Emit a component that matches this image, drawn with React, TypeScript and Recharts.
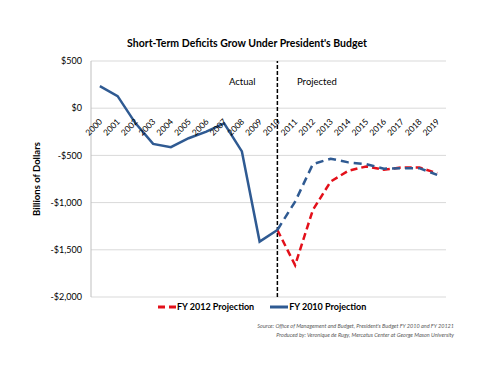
import {
  LineChart,
  Line,
  XAxis,
  YAxis,
  CartesianGrid,
  ReferenceLine,
} from 'recharts';

const years = [
  '2000', '2001', '2002', '2003', '2004', '2005', '2006', '2007', '2008', '2009',
  '2010', '2011', '2012', '2013', '2014', '2015', '2016', '2017', '2018', '2019',
];

// billions of dollars, null where a series has no value
const actual = [234, 128, -158, -378, -413, -318, -248, -161, -458, -1413, -1290,
  null, null, null, null, null, null, null, null, null];
const fy2010 = [null, null, null, null, null, null, null, null, null, null, -1290,
  -990, -592, -535, -574, -592, -641, -635, -635, -706];
const fy2012 = [null, null, null, null, null, null, null, null, null, null, -1290,
  -1663, -1078, -777, -663, -617, -652, -628, -628, -688];

const yTicks = [500, 0, -500, -1000, -1500, -2000];

const data = years.map((year, i) => ({
  year,
  actual: actual[i],
  fy2010: fy2010[i],
  fy2012: fy2012[i],
}));

const FONT = 'Lato, "Open Sans", sans-serif';
const BLUE = '#2F5A92';
const RED = '#E3101A';

const PLOT_TOP = 61;
const PLOT_BOTTOM = 297;
const Y_MIN = -2000;
const Y_MAX = 500;
const zeroY = PLOT_TOP + ((Y_MAX - 0) / (Y_MAX - Y_MIN)) * (PLOT_BOTTOM - PLOT_TOP);

const money = (v: number) => {
  const s = '$' + Math.abs(v).toLocaleString('en-US');
  return v < 0 ? '-' + s : s;
};

function YearTick(props: any) {
  const { x, payload } = props;
  const ax = x + 3;
  const ay = zeroY + 14;
  return (
    <text
      x={ax}
      y={ay}
      transform={`rotate(-45 ${ax} ${ay})`}
      textAnchor="end"
      fontSize={8.5}
      fontFamily={FONT}
      fill="#000"
    >
      {payload.value}
    </text>
  );
}

export default function App() {
  return (
    <div style={{ position: 'absolute', left: 0, top: 0, width: 500, height: 386, background: '#fff', fontFamily: FONT }}>
      <div style={{ position: 'absolute', left: 0, width: 494, top: 37, textAlign: 'center', fontSize: 10.5, fontWeight: 700, color: '#000' }}>
        Short-Term Deficits Grow Under President's Budget
      </div>
      <LineChart
        width={500}
        height={386}
        data={data}
        margin={{ top: PLOT_TOP, right: 54, bottom: 386 - PLOT_BOTTOM - 20, left: 0 }}
      >
        <CartesianGrid horizontal vertical={false} stroke="#d9d9d9" />
        <XAxis
          dataKey="year"
          scale="band"
          axisLine={false}
          tickLine={false}
          tick={(p: any) => <YearTick {...p} />}
          interval={0}
          height={20}
        />
        <YAxis
          domain={[Y_MIN, Y_MAX]}
          ticks={yTicks}
          width={91}
          axisLine={{ stroke: '#bfbfbf' }}
          tickLine={false}
          tickSize={0}
          tickMargin={9}
          tickFormatter={money}
          tick={{ fontSize: 9, fill: '#000', fontFamily: FONT }}
          label={{
            value: 'Billions of Dollars',
            angle: -90,
            position: 'insideLeft',
            dx: 32,
            style: { fontSize: 9.5, fontWeight: 700, fill: '#000', fontFamily: FONT, textAnchor: 'middle' },
          }}
        />
        <ReferenceLine x="2010" stroke="#000" strokeWidth={1.5} strokeDasharray="4 2" />
        <Line
          type="linear"
          dataKey="fy2012"
          stroke={RED}
          strokeWidth={2.5}
          strokeDasharray="7 4"
          dot={false}
          isAnimationActive={false}
        />
        <Line
          type="linear"
          dataKey="fy2010"
          stroke={BLUE}
          strokeWidth={2.5}
          strokeDasharray="8 5"
          dot={false}
          isAnimationActive={false}
        />
        <Line
          type="linear"
          dataKey="actual"
          stroke={BLUE}
          strokeWidth={2.5}
          dot={false}
          isAnimationActive={false}
        />
      </LineChart>
      <div style={{ position: 'absolute', left: 229, top: 76, fontSize: 9.5, color: '#000' }}>Actual</div>
      <div style={{ position: 'absolute', left: 297, top: 76, fontSize: 9.5, color: '#000' }}>Projected</div>
      <div style={{ position: 'absolute', left: 158, top: 301, fontSize: 9, fontWeight: 700, color: '#000', display: 'flex', alignItems: 'center', whiteSpace: 'nowrap' }}>
        <svg width={19} height={6}>
          <line x1={0} y1={3} x2={18} y2={3} stroke={RED} strokeWidth={3} strokeDasharray="7 4" />
        </svg>
        <span>FY 2012 Projection</span>
        <svg width={19} height={6} style={{ marginLeft: 16 }}>
          <line x1={0} y1={3} x2={18} y2={3} stroke={BLUE} strokeWidth={3} />
        </svg>
        <span>FY 2010 Projection</span>
      </div>
      <div style={{ position: 'absolute', right: 46, top: 322, fontSize: 5.5, fontStyle: 'italic', color: '#595959', textAlign: 'right', lineHeight: '9px', whiteSpace: 'nowrap' }}>
        Source: Office of Management and Budget, President's Budget FY 2010 and FY 20121
        <br />
        Produced by: Veronique de Rugy, Mercatus Center at George Mason University
      </div>
    </div>
  );
}
